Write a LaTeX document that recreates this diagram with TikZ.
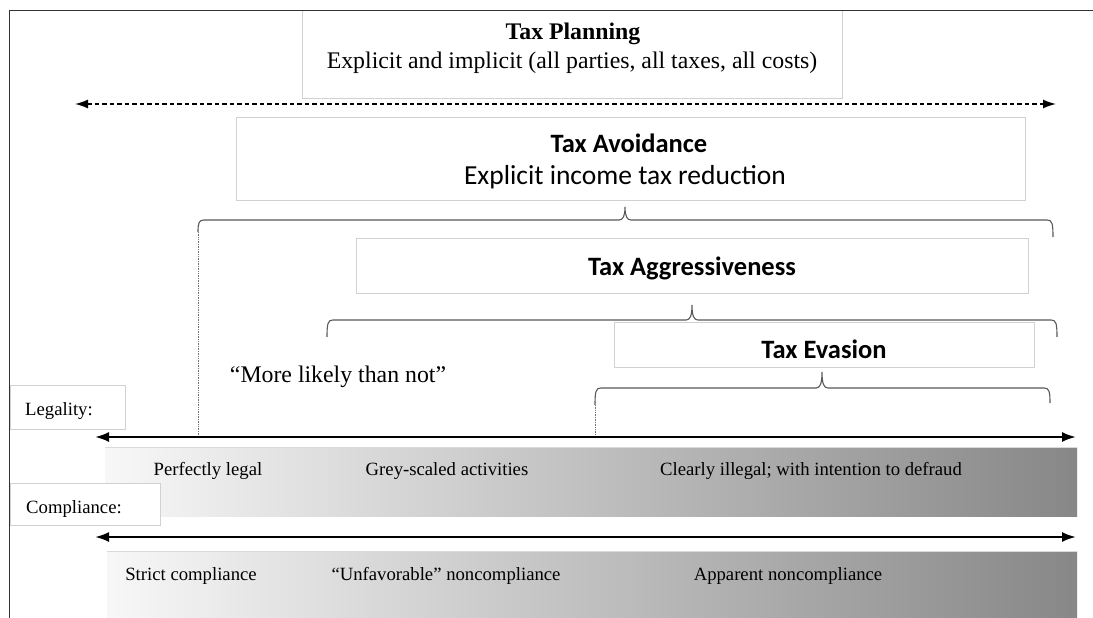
\documentclass[tikz,border=0pt]{standalone}
\usepackage{fontspec}
\setmainfont{Liberation Serif}
\newfontfamily\calibfont{Carlito}
\usetikzlibrary{arrows.meta}
\newcommand\mybrace[7]{% xl, xtip, xr, yh, ytip, yendl, yendr
\draw[bracestyle] (#1,#6) .. controls (#1,{#4+3}) and ({#1+1},#4) .. ({#1+6},#4) -- ({#2-6},#4) .. controls ({#2-2},#4) and (#2,{#4-4}) .. (#2,#5) .. controls (#2,{#4-4}) and ({#2+2},#4) .. ({#2+6},#4) -- ({#3-6},#4) .. controls ({#3-1},#4) and (#3,{#4+3}) .. (#3,#7);}
\tikzset{
  graybox/.style={draw=black!18, fill=white, line width=0.8pt, inner sep=0pt, anchor=north west},
  bracestyle/.style={draw=black!65, line width=1.1pt},
  axisline/.style={line width=2.2pt, {Latex[length=14pt,width=10pt]}-{Latex[length=14pt,width=10pt]}},
  guide/.style={draw=black!55, line width=0.7pt, densely dotted},
  lbl/.style={font=\fontsize{18.7}{22}\selectfont, inner sep=0pt, anchor=base},
  toplbl/.style={font=\fontsize{23.8}{28}\selectfont, inner sep=0pt, anchor=base},
  sanslbl/.style={font=\calibfont\fontsize{26.5}{31}\selectfont, inner sep=0pt},
}
\begin{document}
\begin{tikzpicture}[x=1pt,y=-1pt]
\useasboundingbox (0,0) rectangle (1093,618);
\fill[white] (0,0) rectangle (1093,618);

% Tax planning
\node[graybox, minimum width=540pt, minimum height=88pt] (planbox) at (302,10) {};
\node[toplbl] (plantitle) at (573,40) {\textbf{Tax Planning}};
\node[toplbl] (plansub) at (572,69) {Explicit and implicit (all parties, all taxes, all costs)};

% outer frame
\draw[line width=1.2pt, black!80] (9.5,618) -- (9.5,10.5) -- (1093,10.5);

% dashed arrow
\coordinate (dashL) at (75,104);
\coordinate (dashR) at (1056,104);
\draw[line width=1.4pt, dash pattern=on 4.5pt off 3pt, {Latex[length=13pt,width=9pt]}-{Latex[length=13pt,width=9pt]}] (dashL) -- (dashR);

% Tax avoidance
\node[graybox, minimum width=789pt, minimum height=83pt] (avoidbox) at (236,117) {};
\node[sanslbl] (avoidtitle) at (629,143) {\textbf{Tax Avoidance}};
\node[sanslbl, font=\calibfont\fontsize{27.5}{32}\selectfont] (avoidsub) at (625,177) {Explicit income tax reduction};

% Tax aggressiveness
\node[graybox, minimum width=672pt, minimum height=55pt] (aggrbox) at (356,238) {};
\node[sanslbl] (aggrtitle) at (692,268) {\textbf{Tax Aggressiveness}};

% Tax evasion
\node[graybox, minimum width=420pt, minimum height=45pt] (evabox) at (614,322) {};
\node[sanslbl] (evatitle) at (824,349) {\textbf{Tax Evasion}};

% braces
\mybrace{198}{625}{1053}{220}{207}{232}{237}
\mybrace{327}{692}{1057}{320}{305}{337}{337}
\mybrace{595}{822}{1050}{388}{372}{405}{403}

\node[toplbl] (likely) at (338,382) {“More likely than not”};

% legality
\node[graybox, minimum width=115pt, minimum height=44pt] (legbox) at (10,385) {};
\node[lbl] (legtext) at (59,415) {Legality:};

\coordinate (legL) at (95,437);
\coordinate (legR) at (1076,437);
\coordinate (b1end) at (198,232);
\coordinate (b3end) at (595,405);
\draw[guide] (b1end) -- (b1end |- legL);
\draw[guide] (b3end) -- (b3end |- legL);

\shade[left color=black!3, right color=black!47] (105,447) rectangle (1077,516);
\draw[black!15, line width=0.6pt] (105,447) -- (1077,447);
\draw[axisline] (legL) -- (legR);

\node[lbl] (perf) at (208,475.5) {Perfectly legal};
\node[lbl] (grey) at (447,475.5) {Grey-scaled activities};
\node[lbl] (clear) at (811,475.5) {Clearly illegal; with intention to defraud};

% compliance
\node[graybox, minimum width=150pt, minimum height=42pt] (compbox) at (10,483) {};
\node[lbl] (comptext) at (74,513) {Compliance:};

\coordinate (compL) at (95,537);
\coordinate (compR) at (1076,537);
\shade[left color=black!3, right color=black!47] (107,551) rectangle (1077,618);
\draw[black!15, line width=0.6pt] (107,551) -- (1077,551);
\draw[axisline] (compL) -- (compR);

\node[lbl] (strict) at (191,580) {Strict compliance};
\node[lbl] (unfav) at (446,580) {“Unfavorable” noncompliance};
\node[lbl] (appar) at (788,580) {Apparent noncompliance};
\end{tikzpicture}
\end{document}
